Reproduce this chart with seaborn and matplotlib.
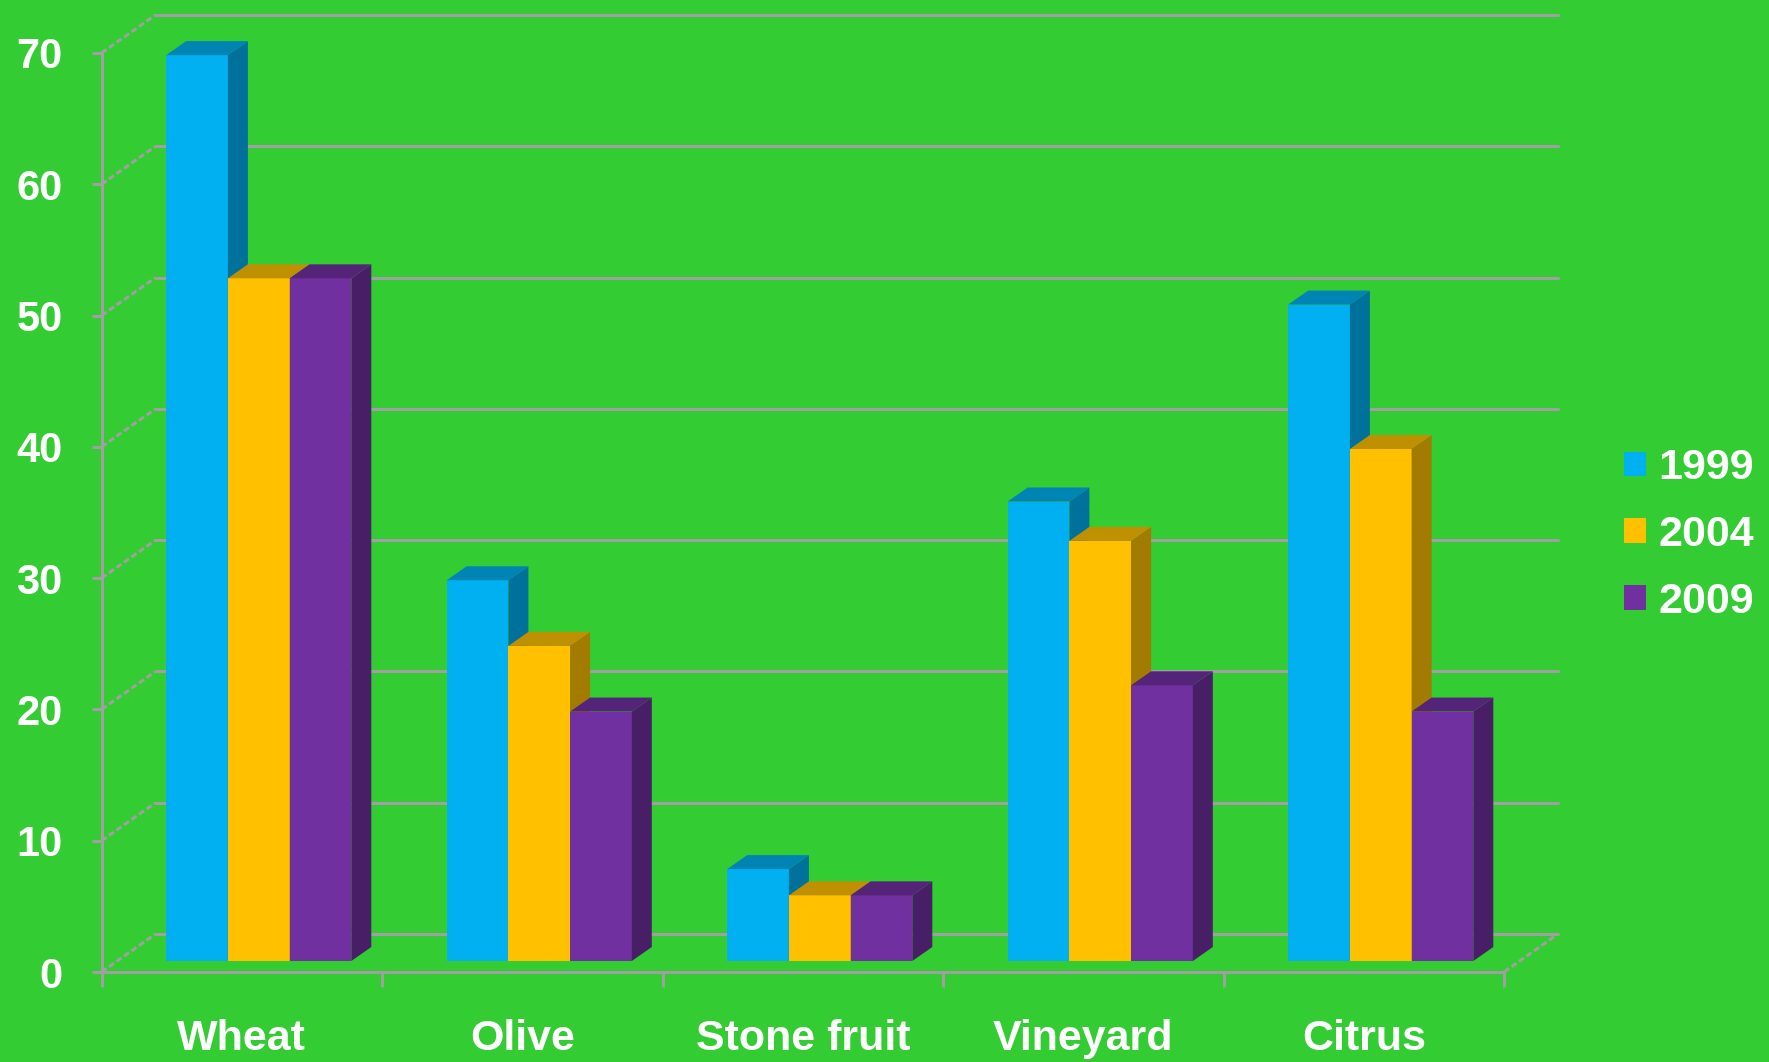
import numpy as np
import pandas as pd
import matplotlib
matplotlib.use("Agg")
import matplotlib.pyplot as plt
from matplotlib.patches import Polygon
import seaborn as sns

# Data
crops = ['Wheat', 'Olive', 'Stone fruit', 'Vineyard', 'Citrus']
years = ['1999', '2004', '2009']
values_1999 = [69, 29, 7, 35, 50]
values_2004 = [52, 24, 5, 32, 39]
values_2009 = [52, 19, 5, 21, 19]
y_ticks = [0, 10, 20, 30, 40, 50, 60, 70]

colors = ['#00B0F0', '#FFC000', '#7030A0']
bg = '#33CC33'
grid_col = '#A0A0A0'

df = pd.DataFrame({
    'crop': crops * 3,
    'year': [years[0]] * 5 + [years[1]] * 5 + [years[2]] * 5,
    'value': values_1999 + values_2004 + values_2009,
})

sns.set_theme(style='white')
plt.rcParams['font.family'] = ['Liberation Sans', 'DejaVu Sans']

W, H = 1769, 1062
fig = plt.figure(figsize=(W / 100, H / 100), dpi=100, facecolor=bg)

# front plane (axis ticks) in pixels
left, right, top, bottom = 101.5, 1504, 53, 972
ax = fig.add_axes([left / W, (H - bottom) / H, (right - left) / W, (bottom - top) / H])
ax.set_facecolor('none')
ax.set_xlim(-0.5, 4.5)
ax.set_ylim(0, 70)

px_x = (right - left) / 5.0
px_y = (bottom - top) / 70.0
wall_dx, wall_dy = 54 / px_x, 38 / px_y     # depth of back wall
bar_dx, bar_dy = 20 / px_x, 14 / px_y       # depth of a bar

# back wall gridlines and left wall diagonals
for v in y_ticks:
    ax.plot([-0.5 + wall_dx, 4.5 + wall_dx], [v + wall_dy, v + wall_dy],
            color=grid_col, lw=2.2, clip_on=False, zorder=1)
    ax.plot([-0.5, -0.5 + wall_dx], [v, v + wall_dy],
            color=grid_col, lw=2.2, ls=(0, (2, 1)), clip_on=False, zorder=1)
ax.plot([4.5, 4.5 + wall_dx], [0, wall_dy], color=grid_col, lw=2.2,
        ls=(0, (2, 1)), clip_on=False, zorder=1)

for s in ['top', 'right']:
    ax.spines[s].set_visible(False)
for s in ['left', 'bottom']:
    ax.spines[s].set_color(grid_col)
    ax.spines[s].set_linewidth(2.2)

ax.set_yticks(y_ticks)
ax.set_yticklabels([str(v) for v in y_ticks])
ax.set_xticks(np.arange(-0.5, 5, 1.0))
ax.set_xticklabels([])
ax.set_xticks(range(5), minor=True)
ax.set_xticklabels(crops, minor=True)
ax.tick_params(axis='y', left=True, length=7, width=2.2, color=grid_col, pad=21,
               labelsize=30, labelcolor='white')
ax.tick_params(axis='x', which='major', bottom=True, length=11, width=2.2, color=grid_col)
ax.tick_params(axis='x', which='minor', bottom=True, length=0, pad=34,
               labelsize=31, labelcolor='white')
for lbl in ax.get_yticklabels() + ax.get_xticklabels(minor=True):
    lbl.set_fontweight('bold')

# bars plane, shifted into depth
sx, sy = 17, 11
bx = fig.add_axes([(left + sx) / W, (H - bottom + sy) / H, (right - left) / W, (bottom - top) / H])
sns.barplot(data=df, x='crop', y='value', hue='year', order=crops, hue_order=years,
            palette=colors, saturation=1, width=0.66, linewidth=0, ax=bx)
bx.set_xlim(-0.5, 4.5)
bx.set_ylim(0, 70)
bx.set_facecolor('none')
bx.axis('off')

handles, labels = bx.get_legend_handles_labels()
bx.get_legend().remove()

bars = [p for p in bx.patches if p.get_height() > 0]
bars.sort(key=lambda p: p.get_x())
for i, p in enumerate(bars):
    x, w, h = p.get_x(), p.get_width(), p.get_height()
    base = np.array(p.get_facecolor()[:3])
    z = 2 + i * 0.1
    p.set_zorder(z)
    side = Polygon([(x + w, 0), (x + w + bar_dx, bar_dy), (x + w + bar_dx, h + bar_dy), (x + w, h)],
                   closed=True, facecolor=base * 0.64, edgecolor='none', clip_on=False, zorder=z + 0.01)
    topf = Polygon([(x, h), (x + bar_dx, h + bar_dy), (x + w + bar_dx, h + bar_dy), (x + w, h)],
                   closed=True, facecolor=base * 0.75, edgecolor='none', clip_on=False, zorder=z + 0.02)
    bx.add_patch(side)
    bx.add_patch(topf)

fig.legend(handles, labels, loc='center left', bbox_to_anchor=(1624 / W, 1 - 535 / H),
           frameon=False, prop={'size': 31, 'weight': 'bold'}, labelcolor='white',
           handlelength=0.5, handleheight=0.5, handletextpad=0.3, labelspacing=0.62,
           borderpad=0, borderaxespad=0)

fig.savefig('out.png', dpi=100, facecolor=bg)
